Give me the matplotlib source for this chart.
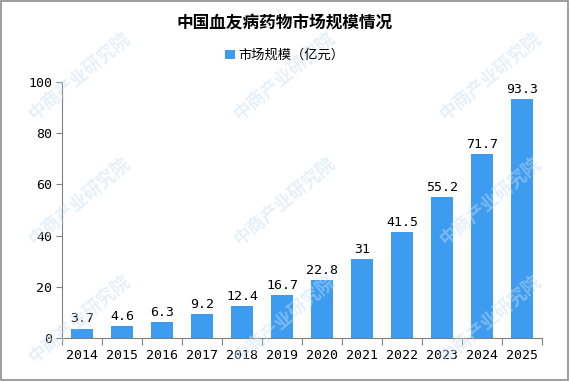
import matplotlib
matplotlib.use("Agg")
import matplotlib.pyplot as plt
from matplotlib.patches import Rectangle

plt.rcParams['font.family'] = ['Noto Sans CJK SC', 'DejaVu Sans']

years = ['2014', '2015', '2016', '2017', '2018', '2019', '2020', '2021', '2022', '2023', '2024', '2025']
values = [3.7, 4.6, 6.3, 9.2, 12.4, 16.7, 22.8, 31, 41.5, 55.2, 71.7, 93.3]
value_labels = ['3.7', '4.6', '6.3', '9.2', '12.4', '16.7', '22.8', '31', '41.5', '55.2', '71.7', '93.3']
yticks = [0, 20, 40, 60, 80, 100]

fig = plt.figure(figsize=(5.7, 3.81), dpi=100)
ax = fig.add_axes([0.1088, 0.1129, 0.8422, 0.672])

bar_color = '#3d9cf0'
x = list(range(len(years)))
bars = ax.bar(x, values, width=0.56, color=bar_color, label='市场规模（亿元）', zorder=2)

mono = 'DejaVu Sans Mono'
for xi, v, lab in zip(x, values, value_labels):
    ax.text(xi, v + 1.2, lab, ha='center', va='bottom', fontsize=9.5,
            family=mono, zorder=3)

ax.set_xlim(-0.5, len(years) - 0.5)
ax.set_ylim(0, 100)
ax.set_yticks(yticks)
ax.set_yticklabels([str(t) for t in yticks], family=mono, fontsize=9.5)

# ticks between categories
ax.set_xticks([i - 0.5 for i in range(len(years) + 1)])
ax.set_xticklabels([])
ax.set_xticks(x, minor=True)
ax.set_xticklabels(years, minor=True, family=mono, fontsize=9.5)
ax.tick_params(axis='x', which='minor', length=0, pad=8)
ax.tick_params(axis='x', which='major', length=5, color='#808080')
ax.tick_params(axis='y', length=4, color='#808080', pad=3)

for s in ['top', 'right']:
    ax.spines[s].set_visible(False)
for s in ['left', 'bottom']:
    ax.spines[s].set_color('#808080')

fig.text(0.5, 0.94, '中国血友病药物市场规模情况', ha='center', va='center',
         fontsize=12, fontweight='bold')
leg = fig.legend(handles=[bars], labels=['市场规模（亿元）'], loc='center',
                 bbox_to_anchor=(0.5, 0.855), frameon=False, fontsize=9.5,
                 handlelength=0.7, handleheight=0.7, handletextpad=0.3)

# watermark
wm_pos = [(0.14, 0.8), (0.5, 0.8), (0.86, 0.8), (0.14, 0.47), (0.5, 0.47),
          (0.86, 0.47), (0.14, 0.16), (0.5, 0.16), (0.86, 0.16)]
for (px, py) in wm_pos:
    fig.text(px, py, '中商产业研究院', rotation=40, ha='center', va='center',
             fontsize=13, color='#c9dff0', alpha=0.45, fontweight='bold', zorder=0)

fig.patches.append(Rectangle((0.002, 0.003), 0.995, 0.994, transform=fig.transFigure,
                             fill=False, edgecolor='#8c8c8c', linewidth=1.2))

fig.savefig('out.png', dpi=100)
